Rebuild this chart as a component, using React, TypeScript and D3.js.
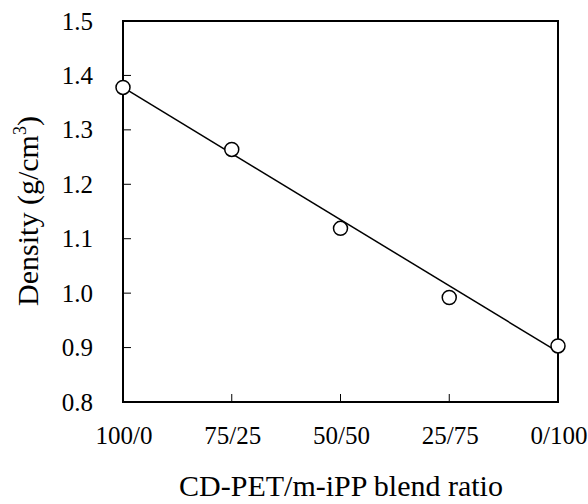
import React from "react";
import * as d3 from "d3";

const categories = ["100/0", "75/25", "50/50", "25/75", "0/100"];
const density = [1.378, 1.264, 1.119, 0.992, 0.903];
const fitEnds = [1.378, 0.892];
const yTicks = [0.8, 0.9, 1.0, 1.1, 1.2, 1.3, 1.4, 1.5];

const W = 588;
const H = 504;
const left = 123;
const right = 558;
const top = 21;
const bottom = 402;
const font = "'Liberation Serif', 'Times New Roman', serif";

export default function App() {
  const x = d3.scalePoint<string>().domain(categories).range([left, right]);
  const y = d3.scaleLinear().domain([0.8, 1.5]).range([bottom, top]);
  const line = d3
    .line<[string, number]>()
    .x((d) => x(d[0]) as number)
    .y((d) => y(d[1]));
  const fitData: [string, number][] = [
    [categories[0], fitEnds[0]],
    [categories[categories.length - 1], fitEnds[1]],
  ];

  return (
    <svg
      width={W}
      height={H}
      style={{ position: "absolute", left: 0, top: 0, background: "#fff" }}
      fontFamily={font}
    >
      <rect x={0} y={0} width={W} height={H} fill="#fff" />
      {/* y ticks */}
      {yTicks.map((t) => (
        <g key={t}>
          {t > 0.8 && t < 1.5 && (
            <line x1={left} x2={left + 8} y1={y(t)} y2={y(t)} stroke="#000" strokeWidth={1} />
          )}
          <text x={93} y={y(t) + 8.5} textAnchor="end" fontSize={25} fill="#000">
            {d3.format(".1f")(t)}
          </text>
        </g>
      ))}
      {/* x ticks */}
      {categories.map((c, i) => (
        <g key={c}>
          {i > 0 && i < categories.length - 1 && (
            <line x1={x(c)} x2={x(c)} y1={bottom} y2={bottom - 8} stroke="#000" strokeWidth={1} />
          )}
          <text x={(x(c) as number) + 1} y={444} textAnchor="middle" fontSize={25} fill="#000">
            {c}
          </text>
        </g>
      ))}
      {/* frame */}
      <rect
        x={left}
        y={top}
        width={right - left}
        height={bottom - top}
        fill="none"
        stroke="#000"
        strokeWidth={2}
      />
      {/* fit line */}
      <path d={line(fitData) || ""} fill="none" stroke="#000" strokeWidth={1.5} />
      {/* points */}
      {density.map((v, i) => (
        <circle
          key={i}
          cx={x(categories[i])}
          cy={y(v)}
          r={7}
          fill="#fff"
          stroke="#000"
          strokeWidth={1.5}
        />
      ))}
      {/* axis titles */}
      <text x={341} y={496} textAnchor="middle" fontSize={30} fill="#000">
        CD-PET/m-iPP blend ratio
      </text>
      <text
        transform={`translate(38, 211) rotate(-90)`}
        textAnchor="middle"
        fontSize={30}
        fill="#000"
      >
        Density (g/cm
        <tspan dy={-12} fontSize={18}>3</tspan>
        <tspan dy={12}>)</tspan>
      </text>
    </svg>
  );
}
